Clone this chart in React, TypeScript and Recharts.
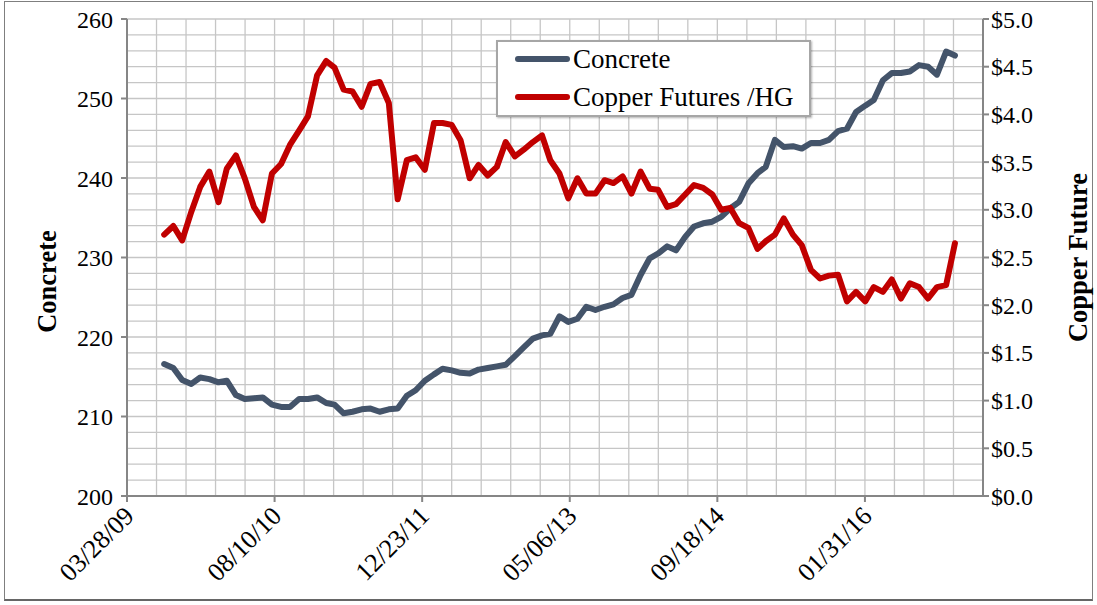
import { LineChart, Line, XAxis, YAxis, CartesianGrid, Legend } from "recharts";

// monthly readings, Aug 2009 .. Dec 2016
const months = [
  "2009-08", "2009-09", "2009-10", "2009-11", "2009-12",
  "2010-01", "2010-02", "2010-03", "2010-04", "2010-05", "2010-06", "2010-07", "2010-08", "2010-09", "2010-10", "2010-11", "2010-12",
  "2011-01", "2011-02", "2011-03", "2011-04", "2011-05", "2011-06", "2011-07", "2011-08", "2011-09", "2011-10", "2011-11", "2011-12",
  "2012-01", "2012-02", "2012-03", "2012-04", "2012-05", "2012-06", "2012-07", "2012-08", "2012-09", "2012-10", "2012-11", "2012-12",
  "2013-01", "2013-02", "2013-03", "2013-04", "2013-05", "2013-06", "2013-07", "2013-08", "2013-09", "2013-10", "2013-11", "2013-12",
  "2014-01", "2014-02", "2014-03", "2014-04", "2014-05", "2014-06", "2014-07", "2014-08", "2014-09", "2014-10", "2014-11", "2014-12",
  "2015-01", "2015-02", "2015-03", "2015-04", "2015-05", "2015-06", "2015-07", "2015-08", "2015-09", "2015-10", "2015-11", "2015-12",
  "2016-01", "2016-02", "2016-03", "2016-04", "2016-05", "2016-06", "2016-07", "2016-08", "2016-09", "2016-10", "2016-11", "2016-12",
];

const concrete = [
  216.6, 216.1, 214.6, 214.1, 214.9,
  214.7, 214.3, 214.5, 212.7, 212.2, 212.3, 212.4, 211.5, 211.2, 211.2, 212.2, 212.2,
  212.4, 211.7, 211.5, 210.4, 210.6, 210.9, 211.0, 210.6, 210.9, 211.0, 212.6, 213.3,
  214.5, 215.3, 216.0, 215.8, 215.5, 215.4, 215.9, 216.1, 216.3, 216.5, 217.6, 218.7,
  219.8, 220.2, 220.4, 222.6, 221.9, 222.3, 223.8, 223.4, 223.8, 224.1, 224.9, 225.3,
  227.8, 229.9, 230.5, 231.4, 230.9, 232.6, 233.9, 234.3, 234.5, 235.1, 236.2, 237.0,
  239.3, 240.6, 241.4, 244.8, 243.9, 244.0, 243.7, 244.4, 244.4, 244.8, 245.9, 246.2,
  248.3, 249.1, 249.8, 252.3, 253.2, 253.2, 253.4, 254.2, 254.0, 253.0, 255.9, 255.4,
];

const copper = [
  2.74, 2.83, 2.68, 2.98, 3.24,
  3.40, 3.08, 3.43, 3.57, 3.33, 3.03, 2.89, 3.38, 3.48, 3.68, 3.83, 3.98,
  4.41, 4.56, 4.49, 4.26, 4.24, 4.08, 4.32, 4.34, 4.12, 3.11, 3.52, 3.55,
  3.42, 3.91, 3.91, 3.89, 3.73, 3.33, 3.47, 3.36, 3.45, 3.71, 3.56, 3.63,
  3.71, 3.78, 3.52, 3.38, 3.12, 3.33, 3.17, 3.17, 3.31, 3.28, 3.35, 3.17,
  3.40, 3.22, 3.21, 3.03, 3.06, 3.16, 3.26, 3.23, 3.16, 3.00, 3.02, 2.86,
  2.81, 2.59, 2.67, 2.74, 2.91, 2.74, 2.63, 2.37, 2.28, 2.31, 2.32, 2.04,
  2.14, 2.04, 2.19, 2.14, 2.27, 2.07, 2.23, 2.19, 2.07, 2.19, 2.21, 2.65,
];

const dateTicks = ["03/28/09", "08/10/10", "12/23/11", "05/06/13", "09/18/14", "01/31/16"];
const dateEnd = "03/06/17";
const concreteTicks = [200, 210, 220, 230, 240, 250, 260];
const copperTicks = [0, 0.5, 1, 1.5, 2, 2.5, 3, 3.5, 4, 4.5, 5];

const SERIF = "'Liberation Serif', 'Times New Roman', serif";
const AXIS = "#868686";
const GRID = "#c6c6c6";
const DAY = 86400000;

const series = [
  { key: "concrete", name: "Concrete", color: "#44546a" },
  { key: "copper", name: "Copper Futures /HG", color: "#c00000" },
];

const parseTick = (s: string) => {
  const [m, d, y] = s.split("/").map(Number);
  return Date.UTC(2000 + y, m - 1, d);
};

const fmtDate = (t: number) => {
  const d = new Date(t);
  const p = (n: number) => String(n).padStart(2, "0");
  return p(d.getUTCMonth() + 1) + "/" + p(d.getUTCDate()) + "/" + p(d.getUTCFullYear() % 100);
};

const xStart = parseTick(dateTicks[0]);
const xEnd = parseTick(dateEnd);
const xTicks = dateTicks.map(parseTick);

// minor grid: every 100 days across, every 2 units up
const gridX: number[] = [];
for (let t = xStart; t <= xEnd + DAY; t += 100 * DAY) gridX.push(t);
const gridY: number[] = [];
for (let v = 200; v <= 260; v += 2) gridY.push(v);

const rows = months.map((m, i) => {
  const [y, mo] = m.split("-").map(Number);
  return { date: Date.UTC(y, mo - 1, 1), concrete: concrete[i], copper: copper[i] };
});

function DateTick(props: any) {
  const { x, y, payload } = props;
  const ax = x + 2;
  const ay = y + 9;
  return (
    <text
      x={ax}
      y={ay}
      dy="0.35em"
      textAnchor="end"
      transform={`rotate(-45, ${ax}, ${ay})`}
      fill="#000"
      fontFamily={SERIF}
      fontSize={26}
    >
      {fmtDate(payload.value)}
    </text>
  );
}

function LegendBox() {
  return (
    <div
      style={{
        width: 315,
        height: 77,
        boxSizing: "border-box",
        border: "2px solid #a6a6a6",
        boxShadow: "1px 1px 2px rgba(0,0,0,0.3)",
        background: "#fff",
        fontFamily: SERIF,
        fontSize: 27,
        color: "#000",
        overflow: "hidden",
      }}
    >
      <div style={{ marginTop: -2 }}>
        {series.map((s) => (
          <div key={s.key} style={{ display: "flex", alignItems: "center", height: 38 }}>
            <svg width={75} height={10} style={{ flex: "none" }}>
              <line x1={20} y1={5} x2={69} y2={5} stroke={s.color} strokeWidth={6} strokeLinecap="round" />
            </svg>
            <span style={{ whiteSpace: "nowrap", lineHeight: "30px" }}>{s.name}</span>
          </div>
        ))}
      </div>
    </div>
  );
}

export default function App() {
  return (
    <div style={{ position: "absolute", left: 0, top: 0, width: 1097, height: 605, background: "#fff" }}>
      <div
        style={{
          position: "absolute",
          left: 4,
          top: 1,
          width: 1089,
          height: 600,
          boxSizing: "border-box",
          border: "1px solid #7f7f7f",
          borderBottom: "2px solid #666",
        }}
      />
      <LineChart
        width={1097}
        height={605}
        data={rows}
        margin={{ top: 19, right: 44, bottom: 29, left: 67 }}
      >
        <XAxis
          xAxisId="grid"
          dataKey="date"
          type="number"
          domain={[xStart, xEnd]}
          allowDataOverflow
          ticks={gridX}
          interval={0}
          height={0}
          hide
        />
        <YAxis
          yAxisId="grid"
          type="number"
          domain={[200, 260]}
          allowDataOverflow
          ticks={gridY}
          interval={0}
          width={0}
          hide
        />

        <CartesianGrid xAxisId="grid" yAxisId="grid" stroke={GRID} strokeWidth={1.3} />

        <XAxis
          xAxisId="main"
          dataKey="date"
          type="number"
          scale="time"
          domain={[xStart, xEnd]}
          allowDataOverflow
          ticks={xTicks}
          height={80}
          stroke={AXIS}
          strokeWidth={2}
          tickSize={6}
          tickMargin={0}
          interval={0}
          tick={<DateTick />}
        />

        <YAxis
          yAxisId="left"
          orientation="left"
          domain={[200, 260]}
          ticks={concreteTicks}
          width={60}
          stroke={AXIS}
          strokeWidth={2}
          tickSize={6}
          tickMargin={8}
          interval={0}
          tick={{ fill: "#000", fontFamily: SERIF, fontSize: 24 }}
          label={{
            value: "Concrete",
            angle: -90,
            position: "center",
            dx: -50,
            dy: 24,
            style: { fill: "#000", fontFamily: SERIF, fontSize: 26.5, fontWeight: "bold", textAnchor: "middle" },
          }}
        />

        <YAxis
          yAxisId="right"
          orientation="right"
          domain={[0, 5]}
          ticks={copperTicks}
          width={70}
          stroke={AXIS}
          strokeWidth={2}
          tickSize={6}
          tickMargin={2}
          interval={0}
          tickFormatter={(v: number) => "$" + v.toFixed(1)}
          tick={{ fill: "#000", fontFamily: SERIF, fontSize: 24 }}
          label={{
            value: "Copper Future",
            angle: -90,
            position: "center",
            dx: 60,
            dy: 0,
            style: { fill: "#000", fontFamily: SERIF, fontSize: 26.5, fontWeight: "bold", textAnchor: "middle" },
          }}
        />

        <Legend
          layout="vertical"
          align="center"
          verticalAlign="middle"
          wrapperStyle={{ left: 496, top: 40, width: 315, height: 77 }}
          content={() => <LegendBox />}
        />

        <Line
          xAxisId="main"
          yAxisId="left"
          dataKey="concrete"
          name="Concrete"
          stroke="#44546a"
          strokeWidth={6}
          strokeLinejoin="round"
          strokeLinecap="round"
          dot={false}
          activeDot={false}
          isAnimationActive={false}
        />

        <Line
          xAxisId="main"
          yAxisId="right"
          dataKey="copper"
          name="Copper Futures /HG"
          stroke="#c00000"
          strokeWidth={6}
          strokeLinejoin="round"
          strokeLinecap="round"
          dot={false}
          activeDot={false}
          isAnimationActive={false}
        />
      </LineChart>
    </div>
  );
}
